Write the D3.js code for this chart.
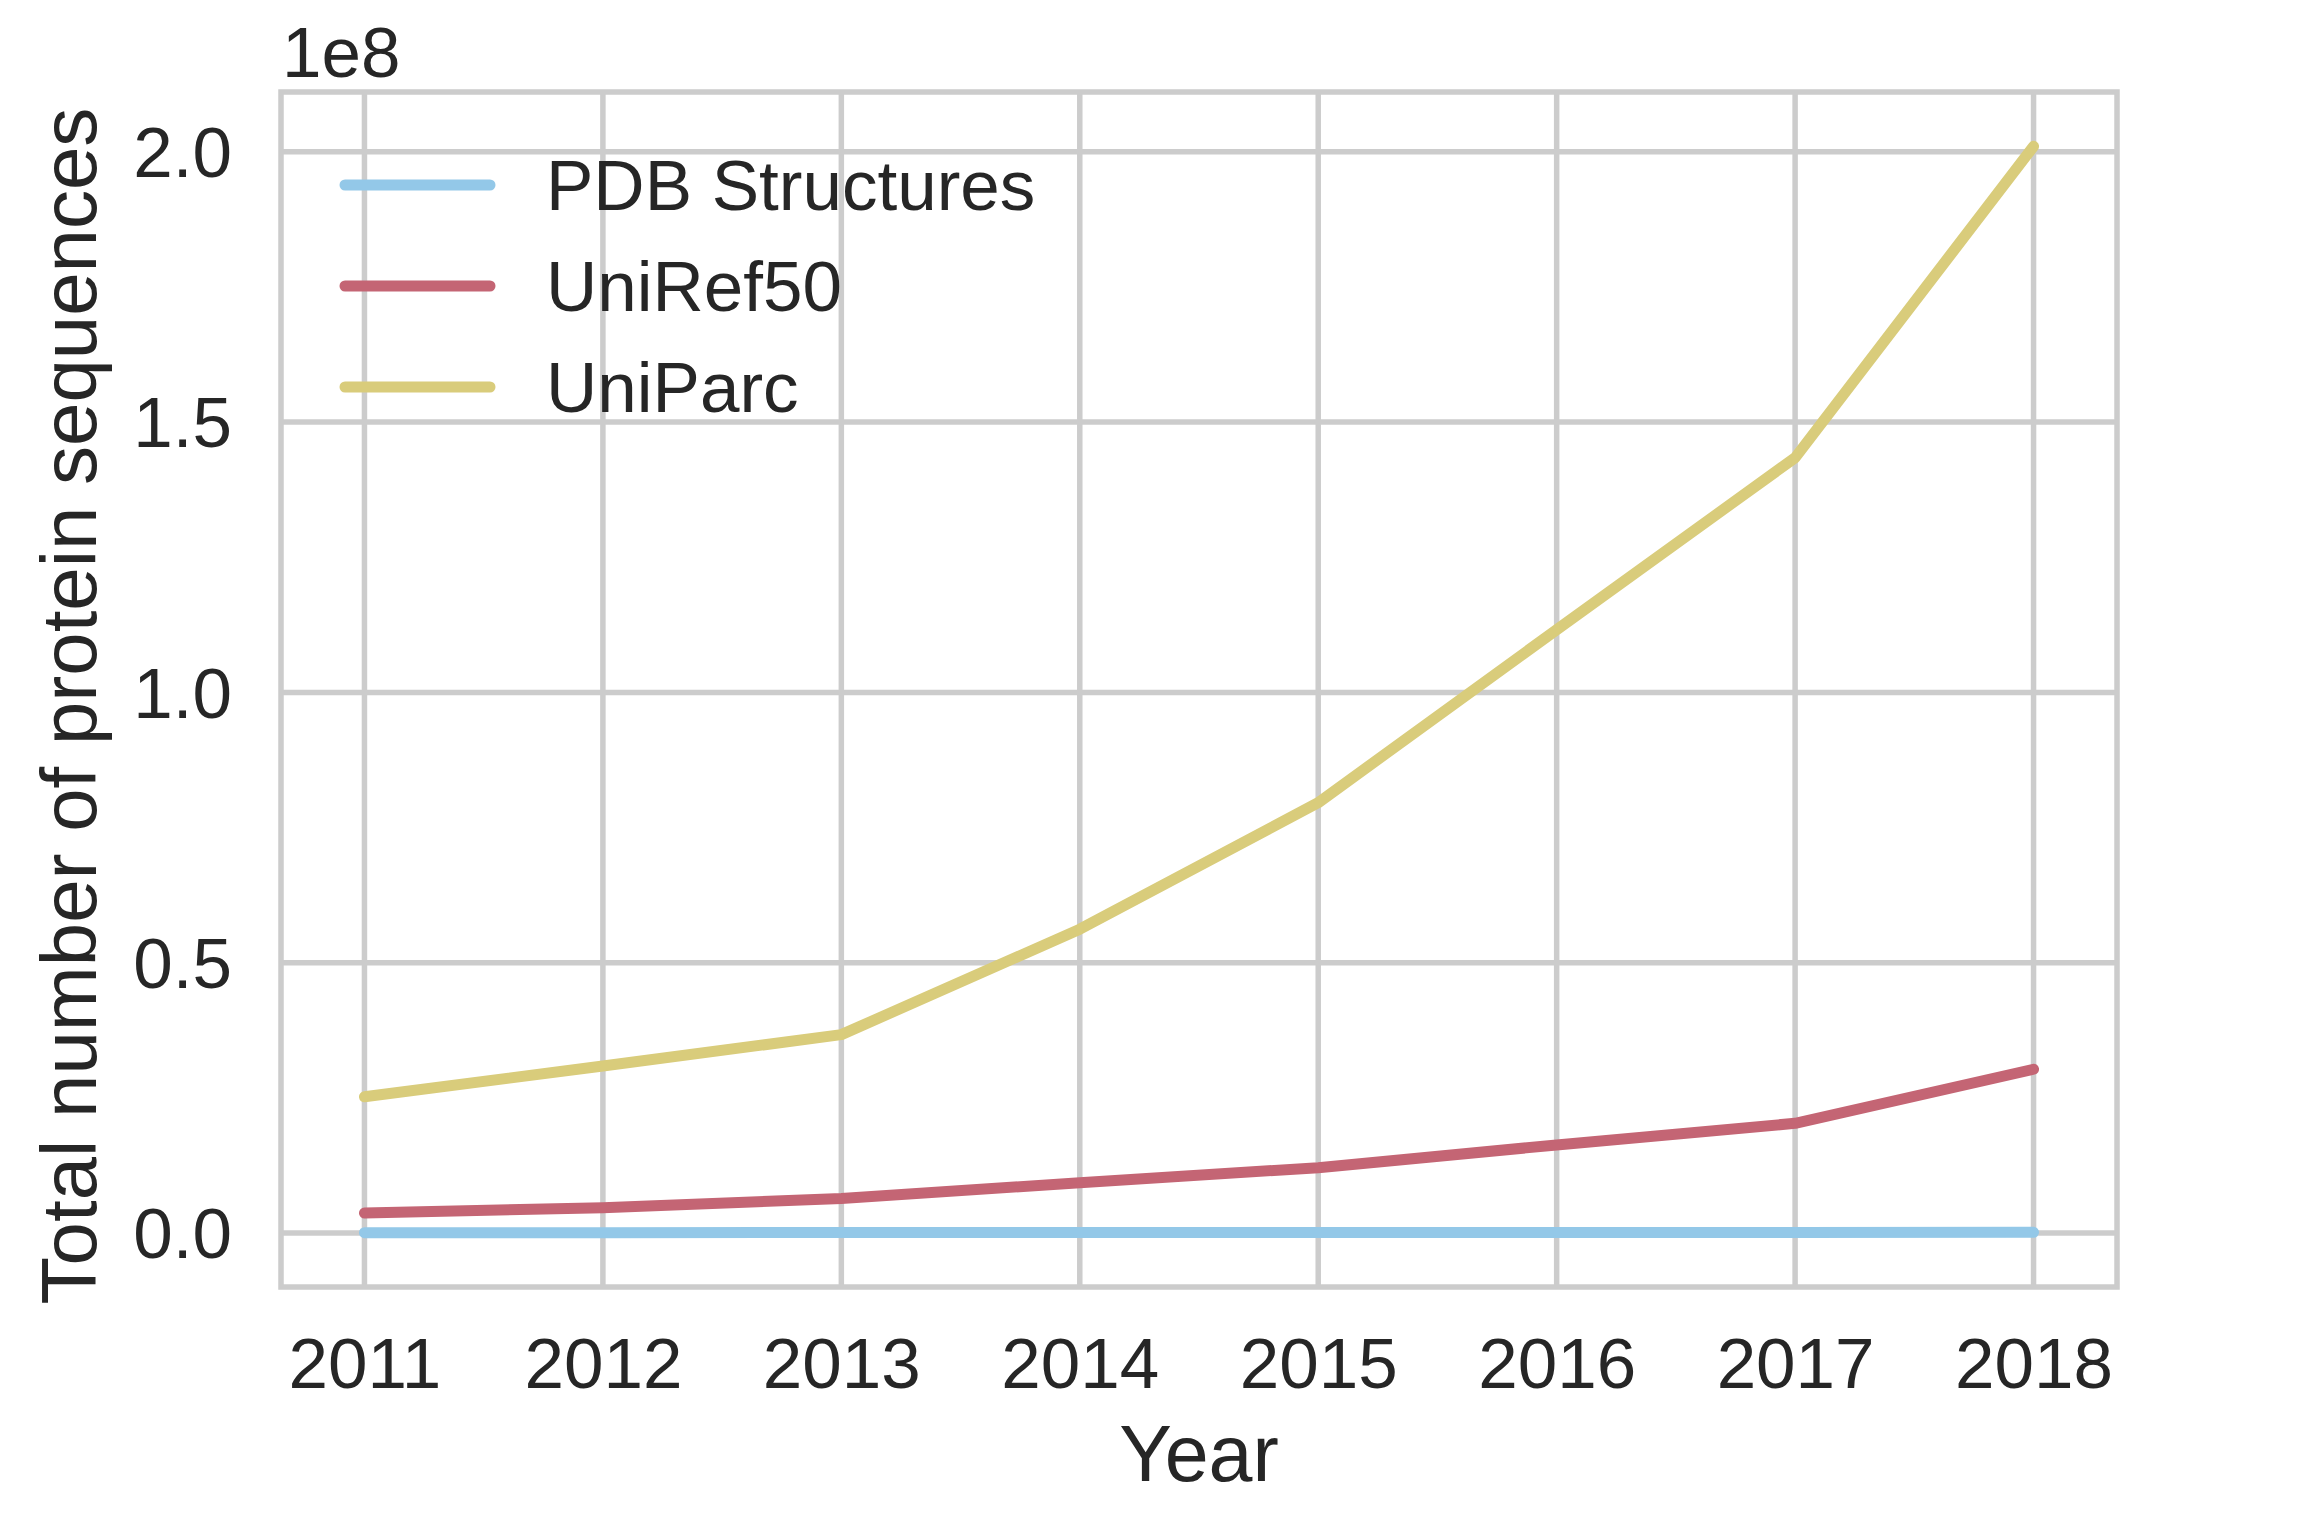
<!DOCTYPE html>
<html>
<head>
<meta charset="utf-8">
<script src="https://cdn.jsdelivr.net/npm/d3@7"></script>
<style>
  html, body { margin: 0; padding: 0; background: #ffffff; }
  svg { display: block; }
  text { font-family: "Liberation Sans", Arial, sans-serif; fill: #262626; }
</style>
</head>
<body>
<svg id="chart" width="2316" height="1532"></svg>
<script>
// ---- data ----
const years = [2011, 2012, 2013, 2014, 2015, 2016, 2017, 2018];
const pdbStructures = [72000, 80000, 88000, 97000, 106000, 115000, 125000, 136000];
const uniRef50 = [3.7e6, 4.7e6, 6.4e6, 9.3e6, 12.1e6, 16.3e6, 20.3e6, 30.3e6];
const uniParc = [25.2e6, 30.9e6, 36.7e6, 56.2e6, 79.6e6, 111.6e6, 143.4e6, 201.0e6];
const seriesNames = ["PDB Structures", "UniRef50", "UniParc"];
const seriesColors = ["#93c8e8", "#c46574", "#d9cc7b"];
const yTicks = [0, 0.5e8, 1.0e8, 1.5e8, 2.0e8];
const yTickLabels = ["0.0", "0.5", "1.0", "1.5", "2.0"];
const offsetText = "1e8";
const xLabel = "Year";
const yLabel = "Total number of protein sequences";

const seriesValues = [pdbStructures, uniRef50, uniParc];

(function () {
// ---- layout ----
const svg = d3.select("#chart");
const pLeft = 281, pRight = 2117, pTop = 92, pBottom = 1287;

const xPad = 0.05 * (d3.max(years) - d3.min(years));
const x = d3.scaleLinear()
  .domain([d3.min(years) - xPad, d3.max(years) + xPad])
  .range([pLeft, pRight]);

const allVals = seriesValues.flat();
const yMin = d3.min(allVals), yMax = d3.max(allVals);
const yPad = 0.05 * (yMax - yMin);
const y = d3.scaleLinear()
  .domain([yMin - yPad, yMax + yPad])
  .range([pBottom, pTop]);

const gridColor = "#cccccc";
const gridWidth = 5.5;

// grid lines
const grid = svg.append("g");
grid.selectAll("line.vgrid").data(years).enter().append("line")
  .attr("x1", d => x(d)).attr("x2", d => x(d))
  .attr("y1", pTop).attr("y2", pBottom)
  .attr("stroke", gridColor).attr("stroke-width", gridWidth);
grid.selectAll("line.hgrid").data(yTicks).enter().append("line")
  .attr("x1", pLeft).attr("x2", pRight)
  .attr("y1", d => y(d)).attr("y2", d => y(d))
  .attr("stroke", gridColor).attr("stroke-width", gridWidth);

// axes frame
svg.append("rect")
  .attr("x", pLeft).attr("y", pTop)
  .attr("width", pRight - pLeft).attr("height", pBottom - pTop)
  .attr("fill", "none").attr("stroke", gridColor).attr("stroke-width", gridWidth);

// x axis
const xAxis = d3.axisBottom(x).tickValues(years).tickFormat(d3.format("d")).tickSize(0).tickPadding(0);
const gx = svg.append("g").attr("transform", `translate(0,${pBottom})`).call(xAxis);
gx.select(".domain").remove();
gx.selectAll("text")
  .attr("y", 101).attr("dy", 0)
  .style("font-size", "71px")
  .style("font-family", "Liberation Sans, Arial, sans-serif")
  .attr("fill", "#262626");

// y axis
const yAxis = d3.axisLeft(y).tickValues(yTicks).tickFormat((d, i) => yTickLabels[i]).tickSize(0).tickPadding(0);
const gy = svg.append("g").attr("transform", `translate(${pLeft},0)`).call(yAxis);
gy.select(".domain").remove();
gy.selectAll("text")
  .attr("x", -49).attr("dy", "0.35em")
  .style("font-size", "71px")
  .style("font-family", "Liberation Sans, Arial, sans-serif")
  .attr("fill", "#262626");

// offset text
svg.append("text")
  .attr("x", pLeft + 1).attr("y", 77)
  .style("font-size", "71px")
  .text(offsetText);

// axis labels
svg.append("text")
  .attr("x", (pLeft + pRight) / 2).attr("y", 1481)
  .attr("text-anchor", "middle")
  .style("font-size", "79px")
  .text(xLabel);

svg.append("text")
  .attr("transform", `translate(96,706) rotate(-90)`)
  .attr("text-anchor", "middle")
  .style("font-size", "78px")
  .text(yLabel);

// lines
const line = d3.line().x((d, i) => x(years[i])).y(d => y(d));
svg.append("g").selectAll("path").data(seriesValues).enter().append("path")
  .attr("d", d => line(d))
  .attr("fill", "none")
  .attr("stroke", (d, i) => seriesColors[i])
  .attr("stroke-width", 11)
  .attr("stroke-linecap", "round")
  .attr("stroke-linejoin", "round");

// legend
const legend = svg.append("g");
const legRowY = [185, 286, 387];
seriesNames.forEach((name, i) => {
  legend.append("line")
    .attr("x1", 345).attr("x2", 490)
    .attr("y1", legRowY[i]).attr("y2", legRowY[i])
    .attr("stroke", seriesColors[i]).attr("stroke-width", 11)
    .attr("stroke-linecap", "round");
  legend.append("text")
    .attr("x", 546).attr("y", legRowY[i]).attr("dy", "0.35em")
    .style("font-size", "71px")
    .text(name);
});
})();
</script>
</body>
</html>
